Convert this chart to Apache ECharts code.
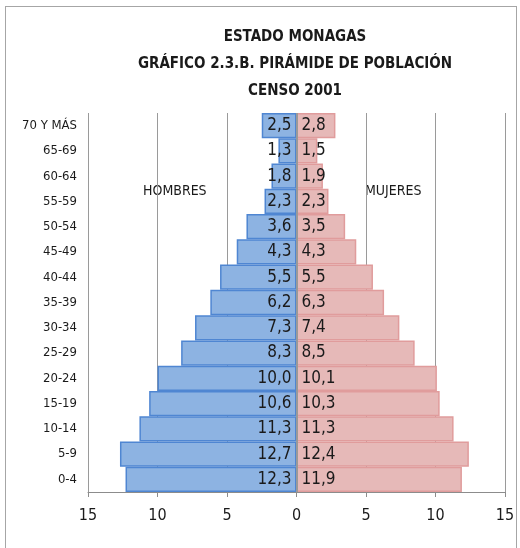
<!DOCTYPE html>
<html>
<head>
<meta charset="utf-8">
<script src="https://cdn.jsdelivr.net/npm/echarts@6/dist/echarts.min.js"></script>
<style>
  html, body { margin: 0; padding: 0; background: #fff; }
  #frame { position: absolute; left: 5px; top: 6px; width: 512px; height: 560px; border: 1px solid #a6a6a6; box-sizing: border-box; }
  #chart { width: 520px; height: 548px; }
</style>
</head>
<body>
<div id="frame"></div>
<div id="chart"></div>
<script>
// grupos de edad (de abajo hacia arriba)
const ageGroups = ['0-4', '5-9', '10-14', '15-19', '20-24', '25-29', '30-34', '35-39',
  '40-44', '45-49', '50-54', '55-59', '60-64', '65-69', '70 Y MÁS']
const hombres = [12.3, 12.7, 11.3, 10.6, 10.0, 8.3, 7.3, 6.2, 5.5, 4.3, 3.6, 2.3, 1.8, 1.3, 2.5]
const mujeres = [11.9, 12.4, 11.3, 10.3, 10.1, 8.5, 7.4, 6.3, 5.5, 4.3, 3.5, 2.3, 1.9, 1.5, 2.8]

const FONT = '"Liberation Sans Narrow", "DejaVu Sans Condensed", sans-serif'

const chart = echarts.init(document.getElementById('chart'))

const fmt = (v) => Math.abs(v).toFixed(1).replace('.', ',')

const option = {
  animation: false,
  title: {
    text: 'ESTADO MONAGAS\nGRÁFICO 2.3.B. PIRÁMIDE DE POBLACIÓN\nCENSO 2001',
    left: 290,
    textAlign: 'center',
    top: 19,
    textStyle: { fontFamily: FONT, fontWeight: 'bold', fontSize: 15, lineHeight: 27, color: '#1a1a1a' }
  },
  grid: { left: 88, right: 15, top: 113, bottom: 56 },
  xAxis: {
    type: 'value',
    min: -15,
    max: 15,
    interval: 5,
    axisLine: { show: true, lineStyle: { color: '#8c8c8c', width: 1 } },
    axisTick: { show: true, length: 5, lineStyle: { color: '#8c8c8c' } },
    axisLabel: {
      margin: 16,
      fontFamily: FONT, fontSize: 16, color: '#1a1a1a',
      formatter: (v) => String(Math.abs(v))
    },
    splitLine: { show: true, lineStyle: { color: '#9a9a9a', width: 1 } }
  },
  yAxis: {
    type: 'category',
    data: ageGroups,
    axisLine: { show: false, onZero: false },
    axisTick: { show: false },
    axisLabel: { fontFamily: FONT, fontSize: 13, color: '#1a1a1a', margin: 11 }
  },
  series: [
    {
      name: 'HOMBRES',
      type: 'bar',
      stack: 'total',
      barCategoryGap: '0%',
      data: hombres.map(v => -v),
      itemStyle: { color: '#8db3e2', borderColor: '#4f86d2', borderWidth: 1.5 },
      label: {
        show: true, position: 'insideRight', distance: 5,
        fontFamily: FONT, fontSize: 17, color: '#1a1a1a',
        formatter: (p) => fmt(p.value)
      },
      markLine: {
        silent: true, symbol: 'none', label: { show: false },
        lineStyle: { color: '#999999', width: 2, type: 'solid' },
        data: [{ xAxis: 0 }]
      }
    },
    {
      name: 'MUJERES',
      type: 'bar',
      stack: 'total',
      barCategoryGap: '0%',
      data: mujeres,
      itemStyle: { color: '#e6b9b8', borderColor: '#e09c9c', borderWidth: 1.5 },
      label: {
        show: true, position: 'insideLeft', distance: 5,
        fontFamily: FONT, fontSize: 17, color: '#1a1a1a',
        formatter: (p) => fmt(p.value)
      }
    }
  ],
  graphic: [
    { type: 'text', left: 143, top: 184, style: { text: 'HOMBRES', fontFamily: FONT, fontSize: 14, fill: '#1a1a1a' } },
    { type: 'text', left: 365, top: 184, style: { text: 'MUJERES', fontFamily: FONT, fontSize: 14, fill: '#1a1a1a' } }
  ]
}

chart.setOption(option)
</script>
</body>
</html>
